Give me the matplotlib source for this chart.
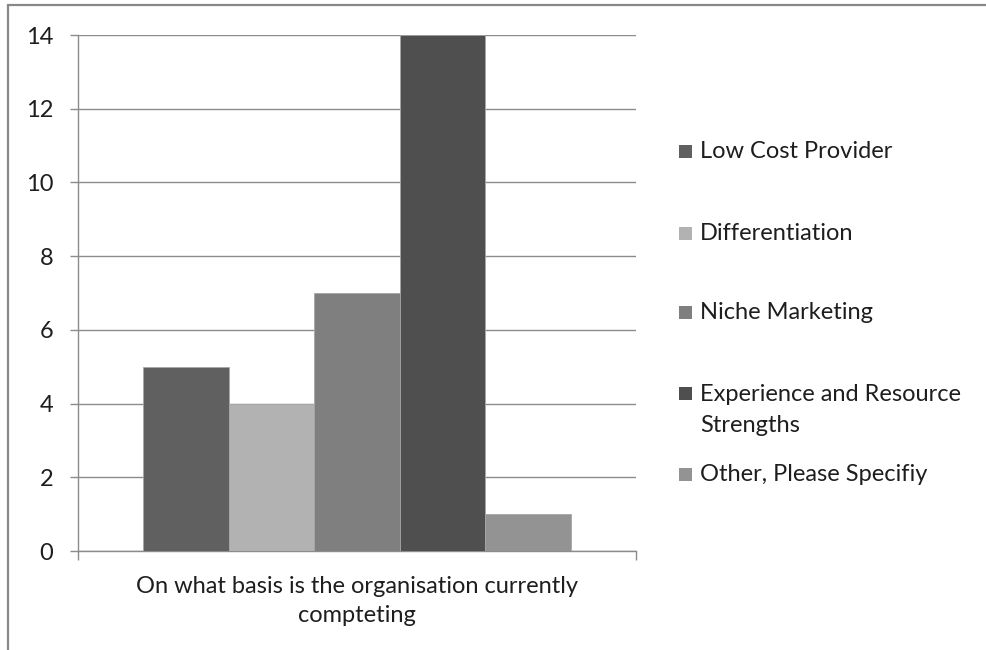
import matplotlib
matplotlib.use('Agg')
import matplotlib.pyplot as plt
from matplotlib.patches import Rectangle

# data
category = 'On what basis is the organisation currently\ncompteting'
series = ['Low Cost Provider', 'Differentiation', 'Niche Marketing',
          'Experience and Resource\nStrengths', 'Other, Please Specifiy']
values = [5, 4, 7, 14, 1]
colors = ['#606060', '#b2b2b2', '#7f7f7f', '#4f4f4f', '#939393']
yticks = [0, 2, 4, 6, 8, 10, 12, 14]

W, H = 987, 650
plt.rcParams['font.family'] = ['Lato', 'DejaVu Sans']
plt.rcParams['font.size'] = 17
txtcol = '#1e1e1e'
linecol = '#8c8c8c'

fig = plt.figure(figsize=(W / 100, H / 100), dpi=100)
ax = fig.add_axes([78/W, 1 - 551/H, (636-78)/W, (551-35)/H])

groupw = 0.767
w = groupw / len(values)
for i, v in enumerate(values):
	ax.bar((i - 2) * w, v, width=w, color=colors[i], edgecolor='#a6a6a6',
		linewidth=0.6, zorder=3, label=series[i])

ax.set_xlim(-0.5, 0.5)
ax.set_ylim(0, 14)
ax.set_yticks(yticks)
ax.yaxis.grid(True, color=linecol, linewidth=1.0, zorder=0)
ax.set_xticks([-0.5, 0.5])
ax.set_xticklabels(['', ''])
ax.set_xticks([0], minor=True)
ax.set_xticklabels([category], minor=True, linespacing=1.5)
ax.tick_params(axis='x', which='minor', length=0, pad=18, colors=txtcol, labelsize=17)
ax.tick_params(axis='x', which='major', length=6.5, width=1.0, color=linecol)
ax.tick_params(axis='y', length=5.8, width=1.0, color=linecol, pad=12, labelcolor=txtcol)
for s in ['top', 'right']:
	ax.spines[s].set_visible(False)
for s in ['left', 'bottom']:
	ax.spines[s].set_color(linecol)
	ax.spines[s].set_linewidth(1.0)

# legend laid out like the spreadsheet one: square sits on the first line's baseline
leg_base = [158, 240, 319, 400, 481]
line_px = 32
sq = 13
for lab, c, yb in zip(series, colors, leg_base):
	fig.patches.append(Rectangle((679/W, 1 - yb/H), sq/W, sq/H, transform=fig.transFigure,
		facecolor=c, edgecolor='none'))
	# matplotlib puts a multi-line text's baseline on its last line
	ylast = yb + line_px * lab.count('\n')
	fig.text(700/W, 1 - ylast/H, lab, va='baseline', ha='left', color=txtcol,
		fontsize=17, linespacing=1.6)

fig.patches.append(Rectangle((8/W, -0.1), 1.2, 1 - 5/H + 0.1, transform=fig.transFigure,
	fill=False, edgecolor='#888888', linewidth=1.6))

fig.savefig('out.png', dpi=100)
